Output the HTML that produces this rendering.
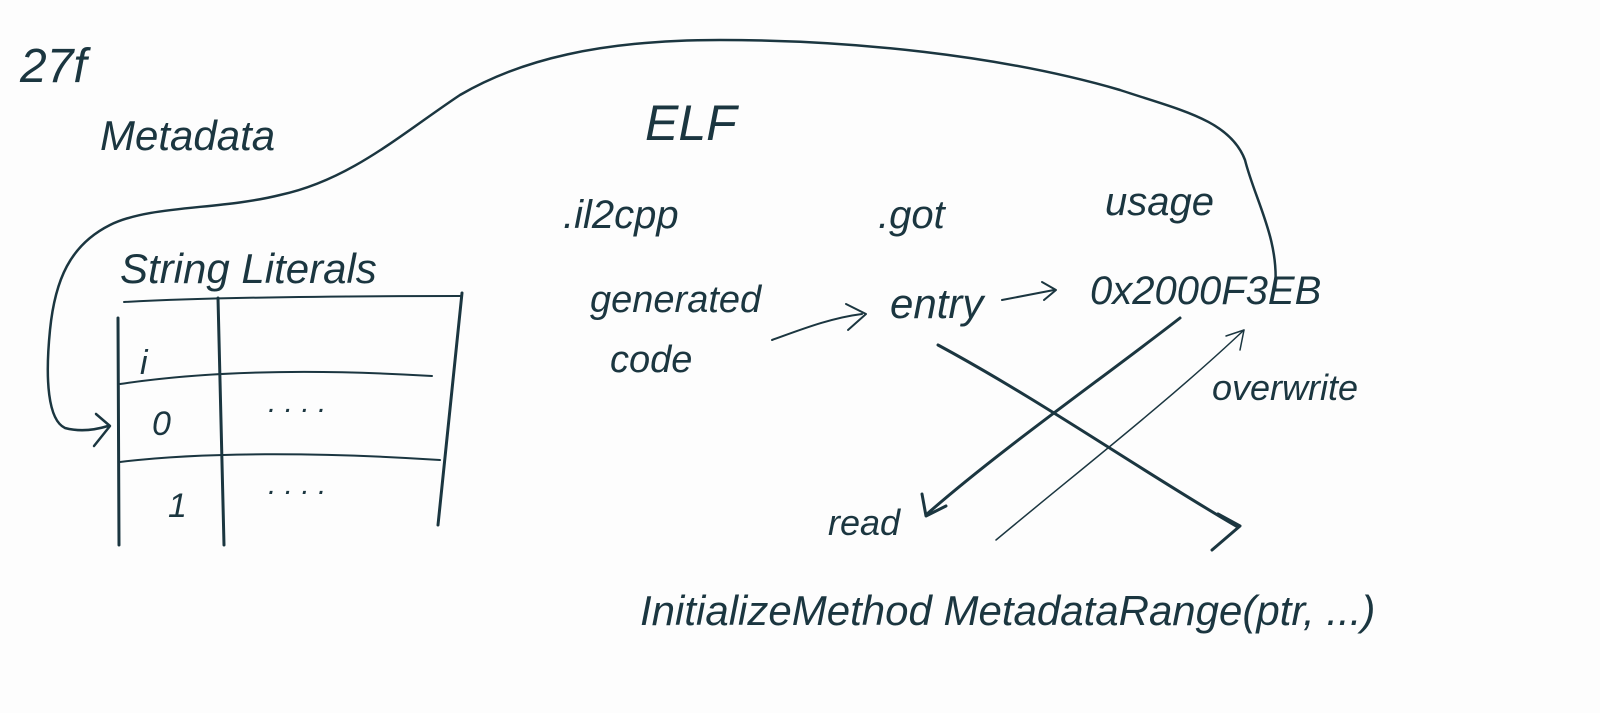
<!DOCTYPE html>
<html><head><meta charset="utf-8"><style>
html,body{margin:0;padding:0;background:#fdfdfd;}
svg{display:block;}
text{font-family:"Liberation Sans",sans-serif;font-style:italic;fill:#1b3640;}
</style></head><body>
<svg width="1600" height="713" viewBox="0 0 1600 713" xmlns="http://www.w3.org/2000/svg">
<g fill="none" stroke="#1b3640" stroke-linecap="round" stroke-linejoin="round">
<!-- big curve -->
<path stroke-width="2.5" d="M1275,290 C1280,240 1255,200 1245,160 C1230,120 1180,110 1120,90 C1000,55 850,40 720,40 C600,40 520,60 460,95 C400,135 350,180 280,195 C220,210 150,205 110,225 C70,245 55,280 50,330 C45,380 48,420 65,428 C80,432 95,430 108,426"/>
<path stroke-width="2.5" d="M96,414 L110,426 L94,446"/>
<!-- table -->
<path stroke-width="3" d="M118,318 L119,545"/>
<path stroke-width="3" d="M218,298 L224,545"/>
<path stroke-width="3" d="M462,293 L438,525"/>
<path stroke-width="2" d="M124,302 C200,298 300,296 460,296"/>
<path stroke-width="2" d="M120,384 C200,372 300,368 432,376"/>
<path stroke-width="2" d="M120,462 C200,452 320,452 440,460"/>
<!-- generated -> entry -->
<path stroke-width="2" d="M772,340 C800,330 830,318 862,314"/>
<path stroke-width="2" d="M846,304 L866,314 L848,330"/>
<!-- entry -> usage -->
<path stroke-width="2" d="M1002,300 L1054,290"/>
<path stroke-width="2" d="M1042,282 L1056,290 L1044,300"/>
<!-- X lines -->
<path stroke-width="3" d="M938,345 C1040,400 1140,470 1236,526"/>
<path stroke-width="3" d="M1218,514 L1240,526 L1212,550"/>
<path stroke-width="3" d="M1180,318 C1100,380 1000,450 927,514"/>
<path stroke-width="3" d="M922,494 L926,516 L946,506"/>
<path stroke-width="1.5" d="M996,540 C1080,470 1170,400 1244,330"/>
<path stroke-width="1.5" d="M1226,336 L1244,330 L1240,350"/>
</g>
<text x="20" y="82" font-size="48">27f</text>
<text x="100" y="150" font-size="42">Metadata</text>
<text x="645" y="140" font-size="50">ELF</text>
<text x="563" y="228" font-size="40">.il2cpp</text>
<text x="878" y="228" font-size="40">.got</text>
<text x="1105" y="215" font-size="40">usage</text>
<text x="120" y="283" font-size="42">String Literals</text>
<text x="590" y="312" font-size="38">generated</text>
<text x="610" y="372" font-size="38">code</text>
<text x="890" y="318" font-size="42">entry</text>
<text x="1090" y="304" font-size="40">0x2000F3EB</text>
<text x="1212" y="400" font-size="36">overwrite</text>
<text x="828" y="535" font-size="36">read</text>
<text x="640" y="625" font-size="42">InitializeMethod MetadataRange(ptr, ...)</text>
<text x="140" y="374" font-size="34">i</text>
<text x="152" y="435" font-size="34">0</text>
<text x="168" y="517" font-size="34">1</text>
<text x="268" y="412" font-size="30">. . . .</text>
<text x="268" y="494" font-size="30">. . . .</text>
</svg>
</body></html>
